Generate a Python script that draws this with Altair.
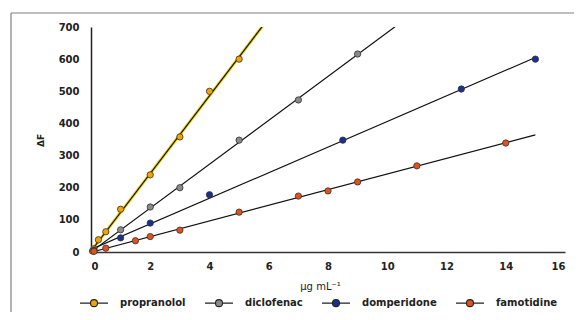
import altair as alt
import pandas as pd

drugs = ["propranolol", "diclofenac", "domperidone", "famotidine"]
colors = ["#F3A300", "#8A8A8A", "#1B2F8F", "#E0521A"]

prop_x = [0.05, 0.1, 0.25, 0.5, 1, 2, 3, 4, 5]
prop_y = [3, 10, 38, 63, 133, 240, 358, 500, 600]
dicl_x = [0.1, 1, 2, 3, 5, 7, 9]
dicl_y = [6, 69, 140, 200, 348, 473, 616]
domp_x = [0.1, 1, 2, 4, 8.5, 12.5, 15]
domp_y = [4, 44, 90, 178, 348, 507, 600]
famo_x = [0.1, 0.5, 1.5, 2, 3, 5, 7, 8, 9, 11, 14]
famo_y = [2, 12, 35, 48, 68, 124, 174, 190, 218, 268, 339]

x_ticks = [0, 2, 4, 6, 8, 10, 12, 14, 16]
y_ticks = [0, 100, 200, 300, 400, 500, 600, 700]

rows = []
for name, xs, ys in zip(drugs, [prop_x, dicl_x, domp_x, famo_x], [prop_y, dicl_y, domp_y, famo_y]):
    for a, b in zip(xs, ys):
        rows.append({"drug": name, "c": a, "dF": b})
df = pd.DataFrame(rows)

xscale = alt.Scale(domain=[0, 16], nice=False)
yscale = alt.Scale(domain=[0, 700], nice=False)

xenc = alt.X("c:Q", scale=xscale, axis=alt.Axis(
    values=x_ticks, title="μg mL⁻¹", grid=False, ticks=False, labelPadding=9,
    labelFont="DejaVu Sans", labelFontWeight="bold", labelFontSize=10, labelColor="#222",
    titleFont="DejaVu Sans", titleFontWeight="normal", titleFontSize=10, titleColor="#222",
    titleX=229, titleY=34, titleBaseline="middle", titleAlign="center",
    domainColor="#333", domainWidth=1.3))
yenc = alt.Y("dF:Q", scale=yscale, axis=alt.Axis(
    values=y_ticks, title="ΔF", grid=False, ticks=False, labelPadding=12,
    labelFont="DejaVu Sans", labelFontWeight="bold", labelFontSize=10, labelColor="#222",
    titleFont="DejaVu Sans", titleFontWeight="bold", titleFontSize=9, titleColor="#222",
    titleX=-51, titleY=113, titleAngle=270, titleBaseline="middle", titleAlign="center",
    domainColor="#222", domainWidth=1.5))

base = alt.Chart(df)

halo = base.transform_filter(alt.datum.drug == "propranolol").transform_regression(
    "c", "dF", groupby=["drug"], extent=[0, 15]
).mark_line(color="#F2D400", strokeWidth=3, clip=True).encode(x=xenc, y=yenc)

lines = base.transform_regression(
    "c", "dF", groupby=["drug"], extent=[0, 15]
).mark_line(color="#111", strokeWidth=1.2, clip=True).encode(
    x=xenc, y=yenc, detail="drug:N")

legend_path = ("M-2,0L-0.5,0M0.5,0L2,0"
               "M-0.5,0A0.5,0.5 0 1,1 0.5,0A0.5,0.5 0 1,1 -0.5,0Z")

points = base.mark_point(filled=True, size=40, stroke="#333", strokeWidth=0.8, opacity=1).encode(
    x=xenc, y=yenc,
    fill=alt.Fill("drug:N", scale=alt.Scale(domain=drugs, range=colors),
                  legend=alt.Legend(title=None, orient="none", direction="horizontal",
                                    legendX=-5, legendY=268, symbolType=legend_path,
                                    symbolSize=196, symbolStrokeColor="#222", symbolStrokeWidth=1.1,
                                    labelOffset=18, columnPadding=16,
                                    labelFont="DejaVu Sans", labelFontWeight="bold",
                                    labelFontSize=10, labelColor="#222")),
)

frame = alt.Chart(pd.DataFrame({"a": [0]}))
border_top = frame.mark_rule(stroke="#808080", strokeWidth=1.2).encode(
    x=alt.value(-80), x2=alt.value(600), y=alt.value(-14))
border_left = frame.mark_rule(stroke="#808080", strokeWidth=1.2).encode(
    x=alt.value(-80), y=alt.value(-14), y2=alt.value(400))

chart = alt.layer(border_top, border_left, halo, lines, points).properties(
    width=474, height=225,
    autosize=alt.AutoSizeParams(type="none"),
    padding={"left": 83, "top": 19, "right": 9, "bottom": 60},
).configure_view(stroke=None)

chart.save("out.html", embed_options={"renderer": "svg", "actions": False})
